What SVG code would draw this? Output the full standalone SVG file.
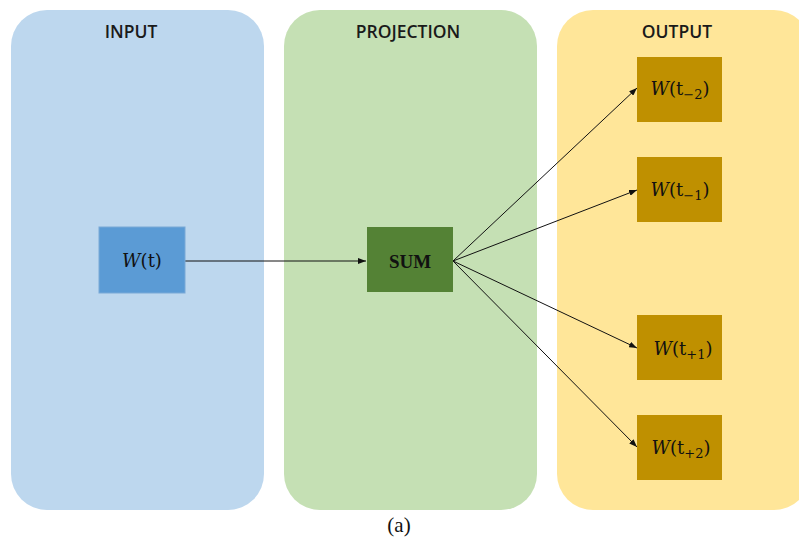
<svg xmlns="http://www.w3.org/2000/svg" width="799" height="545" viewBox="0 0 799 545">
<style>
.title{font-family:"Open Sans","Liberation Sans",sans-serif;font-size:17.5px;font-weight:600;fill:#1a1a1a;text-anchor:middle}
.lbl{font-family:"DejaVu Serif","Liberation Serif",serif;font-size:18px;fill:#111;text-anchor:middle}
.w{font-style:italic}
.sub{font-size:13px}
.conn{stroke:#111;stroke-width:1;fill:none;marker-end:url(#ah)}
</style>
<defs>
<marker id="ah" markerWidth="8" markerHeight="6" refX="8" refY="3" orient="auto" markerUnits="userSpaceOnUse">
<path d="M0,0 L8,3 L0,6 Z" fill="#111"/>
</marker>
</defs>
<rect width="799" height="545" fill="#fff"/>
<g id="panel-input">
<rect x="11" y="10" width="253" height="500" rx="36" fill="#BDD7EE"/>
<text class="title" x="131" y="38">INPUT</text>
</g>
<g id="panel-projection">
<rect x="284" y="10" width="253" height="500" rx="36" fill="#C5E0B4"/>
<text class="title" x="408" y="38">PROJECTION</text>
</g>
<g id="panel-output">
<rect x="557" y="10" width="253" height="500" rx="36" fill="#FFE699"/>
<text class="title" x="677" y="38">OUTPUT</text>
</g>
<g id="connectors">
<line class="conn" x1="185" y1="261" x2="366" y2="261"/>
<line class="conn" x1="453" y1="261" x2="637" y2="88"/>
<line class="conn" x1="453" y1="261" x2="637" y2="190"/>
<line class="conn" x1="453" y1="261" x2="637" y2="348"/>
<line class="conn" x1="453" y1="261" x2="637" y2="447"/>
</g>
<g id="node-wt">
<rect x="99" y="227" width="86" height="66" fill="#5B9BD5" stroke="#7aa9d6" stroke-width="1"/>
<text class="lbl" x="142" y="267"><tspan class="w">W</tspan>(t)</text>
</g>
<g id="node-sum">
<rect x="367" y="227" width="86" height="65" fill="#548235"/>
<text x="410" y="268" style="font-family:'Liberation Serif',serif;font-weight:bold;font-size:19px;fill:#111;text-anchor:middle">SUM</text>
</g>
<g id="node-tm2">
<rect x="637" y="57" width="85" height="65" fill="#BF9000"/>
<text class="lbl" x="680" y="95"><tspan class="w">W</tspan>(t<tspan class="sub" dy="4">−2</tspan><tspan dy="-4">)</tspan></text>
</g>
<g id="node-tm1">
<rect x="637" y="157" width="85" height="65" fill="#BF9000"/>
<text class="lbl" x="680" y="196"><tspan class="w">W</tspan>(t<tspan class="sub" dy="4">−1</tspan><tspan dy="-4">)</tspan></text>
</g>
<g id="node-tp1">
<rect x="637" y="315" width="85" height="65" fill="#BF9000"/>
<text class="lbl" x="683" y="355"><tspan class="w">W</tspan>(t<tspan class="sub" dy="4">+1</tspan><tspan dy="-4">)</tspan></text>
</g>
<g id="node-tp2">
<rect x="637" y="415" width="85" height="65" fill="#BF9000"/>
<text class="lbl" x="681" y="454"><tspan class="w">W</tspan>(t<tspan class="sub" dy="4">+2</tspan><tspan dy="-4">)</tspan></text>
</g>
<text x="399" y="532" style="font-family:'Liberation Serif',serif;font-size:21px;fill:#111;text-anchor:middle">(a)</text>
</svg>
